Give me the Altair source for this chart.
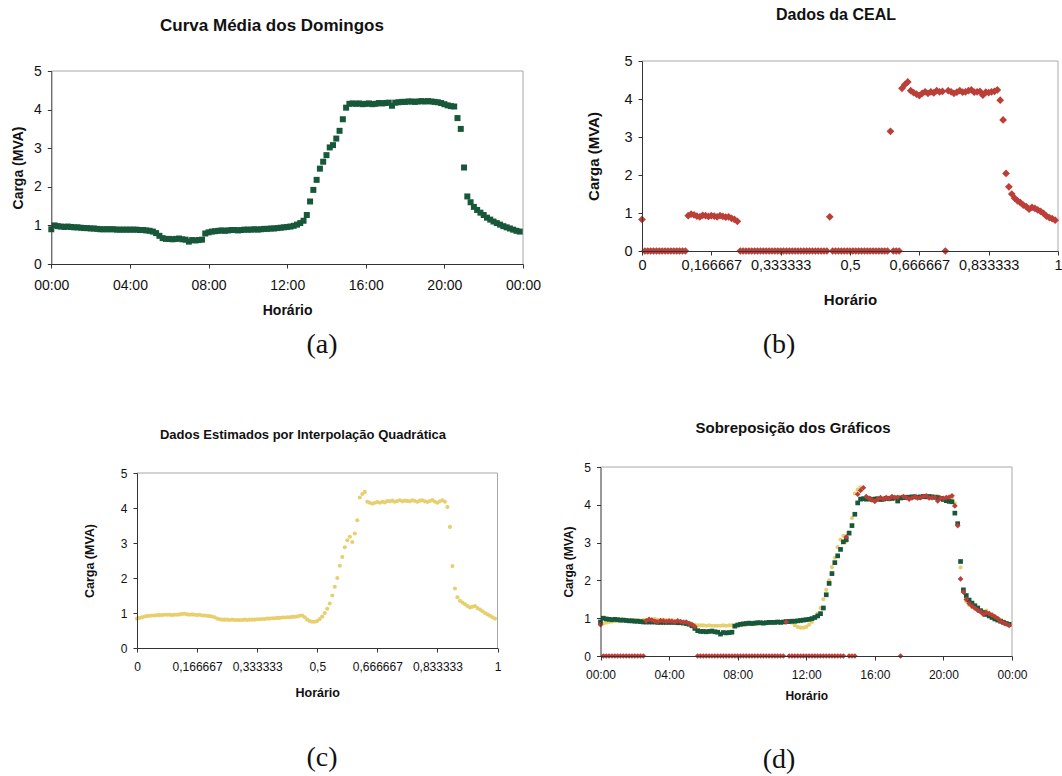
import altair as alt
import pandas as pd

W, H = 1062, 776

# sample times: one reading every 10 minutes, in hours of the day
TIME_H = [round(i / 6, 4) for i in range(144)]

# Curva Média dos Domingos (green squares)
GREEN = [
    0.90, 1.00, 0.98, 0.97, 0.96, 0.97,
    0.96, 0.95, 0.95, 0.94, 0.93, 0.93,
    0.92, 0.92, 0.91, 0.90, 0.90, 0.90,
    0.90, 0.90, 0.89, 0.89, 0.89, 0.89,
    0.89, 0.89, 0.89, 0.88, 0.88, 0.87,
    0.86, 0.84, 0.80, 0.73, 0.67, 0.65,
    0.65, 0.64, 0.65, 0.66, 0.64, 0.63,
    0.58, 0.62, 0.61, 0.62, 0.63, 0.79,
    0.82, 0.84, 0.85, 0.86, 0.87, 0.86,
    0.87, 0.88, 0.88, 0.87, 0.88, 0.89,
    0.89, 0.89, 0.90, 0.89, 0.90, 0.91,
    0.91, 0.92, 0.92, 0.93, 0.94, 0.95,
    0.96, 0.97, 0.99, 1.02, 1.06, 1.12,
    1.27, 1.62, 1.92, 2.18, 2.47, 2.65,
    2.82, 3.02, 3.08, 3.25, 3.45, 3.75,
    4.05, 4.15, 4.16, 4.15, 4.16, 4.14,
    4.15, 4.16, 4.14, 4.15, 4.17, 4.16,
    4.17, 4.18, 4.10, 4.18, 4.19, 4.20,
    4.20, 4.21, 4.21, 4.20, 4.21, 4.22,
    4.21, 4.22, 4.21, 4.20, 4.19, 4.17,
    4.14, 4.11, 4.09, 4.08, 3.78, 3.50,
    2.50, 1.75, 1.60, 1.48, 1.40, 1.33,
    1.27, 1.20, 1.15, 1.10, 1.06, 1.02,
    0.98, 0.95, 0.92, 0.89, 0.86, 0.84,
]

# Dados da CEAL (red diamonds, zeros = missing readings)
RED = [
    0.83, 0, 0, 0, 0, 0,
    0, 0, 0, 0, 0, 0,
    0, 0, 0, 0, 0.93, 0.97,
    0.95, 0.92, 0.90, 0.94, 0.93, 0.91,
    0.93, 0.92, 0.90, 0.93, 0.91, 0.89,
    0.90, 0.86, 0.83, 0.78, 0, 0,
    0, 0, 0, 0, 0, 0,
    0, 0, 0, 0, 0, 0,
    0, 0, 0, 0, 0, 0,
    0, 0, 0, 0, 0, 0,
    0, 0, 0, 0, 0, 0.90,
    0, 0, 0, 0, 0, 0,
    0, 0, 0, 0, 0, 0,
    0, 0, 0, 0, 0, 0,
    0, 0, 3.15, 0, 0, 0,
    4.28, 4.38, 4.45, 4.22, 4.17, 4.13,
    4.09, 4.15, 4.19, 4.15, 4.19, 4.16,
    4.22, 4.19, 4.20, 0, 4.22, 4.19,
    4.15, 4.18, 4.22, 4.18, 4.19, 4.22,
    4.24, 4.18, 4.19, 4.20, 4.10, 4.18,
    4.17, 4.19, 4.20, 4.24, 3.97, 3.45,
    2.04, 1.69, 1.50, 1.39, 1.32, 1.27,
    1.21, 1.17, 1.10, 1.15, 1.12, 1.08,
    1.04, 0.99, 0.92, 0.88, 0.85, 0.81,
]

# Dados Estimados por Interpolação Quadrática (yellow circles)
YELLOW = [
    0.84, 0.86, 0.88, 0.90, 0.91, 0.92,
    0.93, 0.93, 0.94, 0.94, 0.94, 0.95,
    0.95, 0.95, 0.94, 0.95, 0.95, 0.96,
    0.97, 0.98, 0.96, 0.95, 0.96, 0.95,
    0.94, 0.95, 0.93, 0.93, 0.92, 0.91,
    0.90, 0.88, 0.84, 0.82, 0.81, 0.81,
    0.81, 0.80, 0.81, 0.80, 0.80, 0.80,
    0.80, 0.81, 0.80, 0.81, 0.81, 0.81,
    0.82, 0.82, 0.83, 0.83, 0.84, 0.84,
    0.85, 0.85, 0.86, 0.86, 0.87, 0.87,
    0.88, 0.88, 0.89, 0.89, 0.90, 0.92,
    0.93, 0.88, 0.81, 0.77, 0.75, 0.75,
    0.77, 0.83, 0.90, 1.00, 1.12, 1.27,
    1.50, 1.75, 2.00, 2.35, 2.60, 2.88,
    3.08, 3.18, 3.03, 3.27, 3.65, 4.30,
    4.40, 4.46, 4.18, 4.15, 4.12, 4.15,
    4.17, 4.15, 4.18, 4.16, 4.20, 4.19,
    4.21, 4.18, 4.20, 4.22, 4.19, 4.21,
    4.20, 4.19, 4.22, 4.20, 4.18, 4.21,
    4.22, 4.19, 4.17, 4.20, 4.23, 4.18,
    4.15, 4.19, 4.22, 4.18, 4.03, 3.46,
    2.34, 1.70, 1.45, 1.35, 1.30, 1.25,
    1.20, 1.16, 1.18, 1.20, 1.14, 1.10,
    1.05, 1.00, 0.96, 0.92, 0.88, 0.84,
]

X_TICKS = [0, 4, 8, 12, 16, 20, 24]
Y_TICKS = [0, 1, 2, 3, 4, 5]
TITLES = {
    "a": "Curva Média dos Domingos",
    "b": "Dados da CEAL",
    "c": "Dados Estimados por Interpolação Quadrática",
    "d": "Sobreposição dos Gráficos",
}
CAPTIONS = ["(a)", "(b)", "(c)", "(d)"]

C_GREEN = "#17573a"
C_RED = "#bb3f38"
C_YELLOW = "#e8cf6e"

SANS = "Liberation Sans"
SERIF = "Liberation Serif"

TIME_EXPR = "(datum.value % 24 < 10 ? '0' : '') + (datum.value % 24) + ':00'"
FRAC_EXPR = "replace(format(datum.value / 24, '.6~f'), '.', ',')"

df = pd.DataFrame({"h": TIME_H, "green": GREEN, "red": RED, "yellow": YELLOW})
frame_df = pd.DataFrame({"x": [0, 24], "x2": [24, 24], "y": [5, 0], "y2": [5, 5]})

# layout of each panel (pixel ranges of the plot areas and text styling)
PANELS = {
    "a": dict(xr=[51.3, 523], yr=[264, 71], expr=TIME_EXPR, lfs=14, tfs=14,
              lpad=10, xty=46, ytx=-33, title_xy=(272, 26), title_fs=17),
    "b": dict(xr=[642, 1058], yr=[251, 61], expr=FRAC_EXPR, lfs=14.5, tfs=15,
              lpad=3, xty=48, ytx=-49, title_xy=(836, 15), title_fs=16),
    "c": dict(xr=[137, 497.5], yr=[648, 473], expr=FRAC_EXPR, lfs=12, tfs=12.5,
              lpad=9, xty=44, ytx=-48, title_xy=(303, 435), title_fs=13),
    "d": dict(xr=[600.5, 1012], yr=[656, 467], expr=TIME_EXPR, lfs=12, tfs=12,
              lpad=9, xty=39, ytx=-32, title_xy=(793, 428), title_fs=15),
}
CAPTION_XY = [(322, 345), (779, 345), (322, 758), (779, 760)]


def scales(p):
    xs = alt.Scale(domain=[0, 24], range=p["xr"], nice=False, zero=False)
    ys = alt.Scale(domain=[0, 5], range=p["yr"], nice=False, zero=False)
    return xs, ys


def axes(p):
    common = dict(labelFont=SANS, titleFont=SANS, labelColor="#111", titleColor="#111",
                  domainColor="#333", tickColor="#333", grid=False, tickSize=4,
                  titleFontWeight="bold", titleBaseline="middle", zindex=1)
    xa = alt.Axis(orient="bottom", offset=p["yr"][0] - H, values=X_TICKS,
                  labelExpr=p["expr"], title="Horário", labelFontSize=p["lfs"],
                  titleFontSize=p["tfs"], labelPadding=p["lpad"], titleY=p["xty"],
                  labelFlush=False, labelOverlap=False, **common)
    ya = alt.Axis(orient="left", offset=-p["xr"][0], values=Y_TICKS,
                  title="Carga (MVA)", labelFontSize=p["lfs"], titleFontSize=p["tfs"],
                  labelPadding=6, titleX=p["ytx"], labelOverlap=False, **common)
    return xa, ya


def frame(p):
    xs, ys = scales(p)
    return alt.Chart(frame_df).mark_rule(color="#a8a8a8", strokeWidth=1).encode(
        x=alt.X("x:Q", scale=xs, axis=None), x2="x2:Q",
        y=alt.Y("y:Q", scale=ys, axis=None), y2="y2:Q")


def pts(p, col, shape, size, color, with_axes):
    xs, ys = scales(p)
    xa, ya = axes(p) if with_axes else (None, None)
    return alt.Chart(df).mark_point(shape=shape, filled=True, size=size, color=color,
                                    opacity=1, strokeWidth=0).encode(
        x=alt.X("h:Q", scale=xs, axis=xa),
        y=alt.Y(f"{col}:Q", scale=ys, axis=ya))


def label(text, xy, font, fs, weight):
    return alt.Chart(pd.DataFrame({"t": [text]})).mark_text(
        font=font, fontSize=fs, fontWeight=weight, align="center",
        baseline="middle", color="#111").encode(
        x=alt.value(xy[0]), y=alt.value(xy[1]), text="t:N")


layers = []
for key in "abcd":
    layers.append(frame(PANELS[key]))

layers.append(pts(PANELS["a"], "green", "square", 36, C_GREEN, True))
layers.append(pts(PANELS["b"], "red", "diamond", 60, C_RED, True))
layers.append(pts(PANELS["c"], "yellow", "circle", 17, C_YELLOW, True))
layers.append(pts(PANELS["d"], "yellow", "circle", 17, C_YELLOW, True))
layers.append(pts(PANELS["d"], "green", "square", 22, C_GREEN, False))
layers.append(pts(PANELS["d"], "red", "diamond", 32, C_RED, False))

for key in "abcd":
    p = PANELS[key]
    layers.append(label(TITLES[key], p["title_xy"], SANS, p["title_fs"], "bold"))
for cap, xy in zip(CAPTIONS, CAPTION_XY):
    layers.append(label(cap, xy, SERIF, 28, "normal"))

chart = (
    alt.layer(*layers)
    .resolve_scale(x="independent", y="independent")
    .resolve_axis(x="independent", y="independent")
    .properties(width=W, height=H, autosize=alt.AutoSizeParams(type="none"), padding=0,
                background="white")
    .configure_view(stroke=None)
)

chart.save("out.html", embed_options={"renderer": "svg", "actions": False})
